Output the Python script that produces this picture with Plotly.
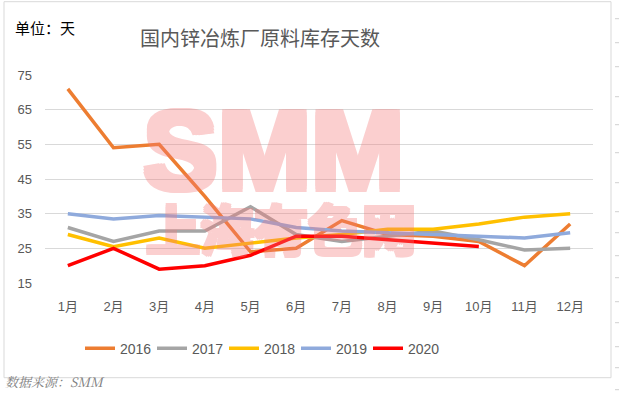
import plotly.graph_objects as go

months = ["1月", "2月", "3月", "4月", "5月", "6月", "7月", "8月", "9月", "10月", "11月", "12月"]
y2016 = [71, 54, 55, 40, 24, 25, 33, 29, 28.5, 27, 20, 32]
y2017 = [31, 27, 30, 30, 37, 29, 27, 28.5, 30, 27.5, 24.5, 25]
y2018 = [29, 25.5, 28, 25, 26.5, 28, 29, 30.5, 30.5, 32, 34, 35]
y2019 = [35, 33.5, 34.5, 34, 33.5, 31, 30, 29.5, 29, 28.5, 28, 29.5]
y2020 = [20, 25, 19, 20, 23, 28.5, 28.5, 27.5, 26.5, 25.5]
series_names = ["2016", "2017", "2018", "2019", "2020"]
series_values = [y2016, y2017, y2018, y2019, y2020]
colors = ["#ED7D31", "#A5A5A5", "#FFC000", "#8FAADC", "#FF0000"]
y_ticks = [15, 25, 35, 45, 55, 65, 75]

W, H = 619, 393
L, R, T, B = 45, 593, 75.3, 283.3


def px_x(p):
    return (p - L) / (R - L)


def px_y(p):
    return (B - p) / (B - T)


FONT = "Liberation Sans, Arial, Noto Sans CJK SC, sans-serif"
CJK = "Noto Sans CJK SC, Liberation Sans, sans-serif"

fig = go.Figure()
for name, vals, c in zip(series_names, series_values, colors):
    fig.add_trace(go.Scatter(
        x=months[:len(vals)], y=vals, name=name, mode="lines",
        line=dict(color=c, width=3.5),
        hoverinfo="skip",
    ))

shapes = [dict(type="rect", xref="paper", yref="paper",
               x0=px_x(4), x1=px_x(611), y0=px_y(2), y1=px_y(378),
               line=dict(color="#D9D9D9", width=1), fillcolor="rgba(0,0,0,0)", layer="below")]
for py in [19, 43, 67, 97, 125, 153, 183, 212, 233, 256, 278, 302, 323, 347, 368, 390]:
    shapes.append(dict(type="line", xref="paper", yref="paper",
                       x0=px_x(615), x1=px_x(620), y0=px_y(py), y1=px_y(py),
                       line=dict(color="#D0D0D0", width=1)))

WMC = "#F57878"


def thick(px):
    offs = [(px, 0), (-px, 0), (0, px), (0, -px), (px, px), (-px, -px), (px, -px), (-px, px)]
    return ", ".join(f"{a}px {b}px 0 {WMC}" for a, b in offs)


annotations = [
    dict(text="国内锌冶炼厂原料库存天数", x=px_x(260), y=px_y(38), xref="paper", yref="paper",
         xanchor="center", yanchor="middle", showarrow=False,
         font=dict(family=CJK, size=20, color="#595959")),
    dict(text="单位：天", x=px_x(13), y=px_y(28), xref="paper", yref="paper",
         xanchor="left", yanchor="middle", showarrow=False,
         font=dict(family=CJK, size=15, color="#000000")),
    dict(text="<i>数据来源：SMM</i>", x=px_x(3), y=px_y(382), xref="paper", yref="paper",
         xanchor="left", yanchor="middle", showarrow=False,
         font=dict(family="Noto Serif CJK SC, Noto Sans CJK SC, serif", size=13, color="#808080")),
    dict(text="SMM", x=px_x(273), y=px_y(151), xref="paper", yref="paper",
         xanchor="center", yanchor="middle", showarrow=False, opacity=0.35,
         font=dict(family="Liberation Sans, Arial, sans-serif", size=112, weight="bold",
                   color=WMC, shadow=thick(3))),
    dict(text="上海有色网", x=px_x(281), y=px_y(228), xref="paper", yref="paper",
         xanchor="center", yanchor="middle", showarrow=False, opacity=0.35,
         font=dict(family=CJK, size=54, weight="bold", color=WMC, shadow=thick(2))),
]

fig.update_layout(
    width=W, height=H,
    margin=dict(l=L, r=W - R, t=T, b=H - B, pad=0, autoexpand=False),
    paper_bgcolor="white", plot_bgcolor="white",
    font=dict(family=FONT, size=13, color="#595959"),
    showlegend=True,
    legend=dict(orientation="h", x=px_x(80), y=px_y(333), xanchor="left", yanchor="top",
                font=dict(family=FONT, size=14, color="#595959"),
                entrywidth=27, entrywidthmode="pixels", itemwidth=30,
                bgcolor="rgba(0,0,0,0)"),
    shapes=shapes,
    annotations=annotations,
)
fig.update_xaxes(type="category", categoryorder="array", categoryarray=months,
                 showgrid=False, showline=False, zeroline=False,
                 ticks="", ticklabelstandoff=14,
                 tickfont=dict(family=FONT, size=13, color="#595959"),
                 range=[-0.5, 11.5])
fig.update_yaxes(range=[15, 75], tickvals=y_ticks, showgrid=True, gridcolor="#D9D9D9", gridwidth=1,
                 zeroline=False, showline=False, ticks="", ticklabelstandoff=12,
                 tickfont=dict(family=FONT, size=13, color="#595959"))

fig.write_html("out.html", config={"displayModeBar": False},
               post_script="document.body.style.margin='0';document.body.style.overflow='hidden';")
